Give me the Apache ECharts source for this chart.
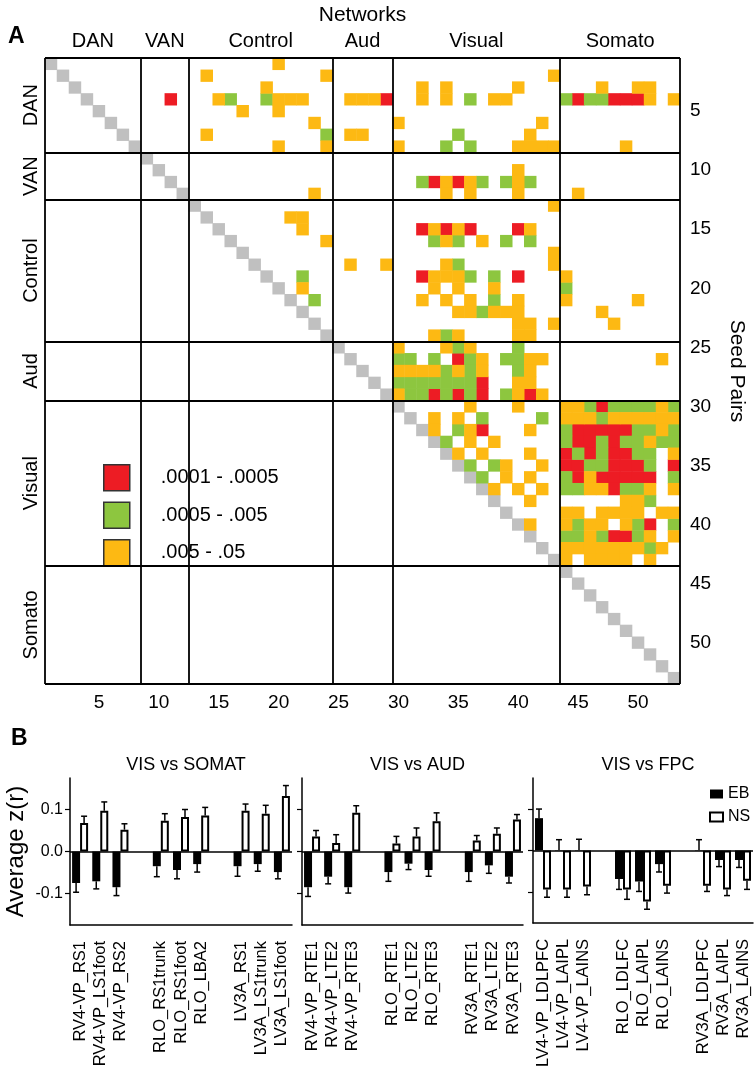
<!DOCTYPE html>
<html>
<head>
<meta charset="utf-8">
<script src="https://cdn.jsdelivr.net/npm/echarts@6/dist/echarts.min.js"></script>
<style>
html,body{margin:0;padding:0;background:#fff;}
#chart{width:756px;height:1070px;}
</style>
</head>
<body>
<div id="chart"></div>
<script>
// ---------------- Panel A data ----------------
const seedTicks = Array.from({length: 53}, (_, i) => String(i + 1));
const networkNames = ['DAN', 'VAN', 'Control', 'Aud', 'Visual', 'Somato'];
const networkBounds = [0, 8, 12, 24, 29, 43, 53];
const legendNames = ['.0001 - .0005', '.0005 - .005', '.005 - .05'];
// per seed row: significant columns (R = .0001-.0005, G = .0005-.005, O = .005-.05)
const rowCells = [
  '20O',
  '14O 24O 43O',
  '19O 32O 34O 40O 47O 50-51O',
  '11R 15O 16G 19G 20-22O 26-28O 29R 32O 34O 36G 38-39O 44G 45R 46-47G 48-50R 51O 53O',
  '17O 20O',
  '23O 30O 42O',
  '14O 24G 26-27O 35G 41O',
  '20O 24O 30O 34G 36G 40-43O 49O',
  '',
  '40O',
  '32G 33R 34O 35R 36O 37G 39G 40O 41G',
  '23O 34O 36O 40O 45O',
  '43O',
  '21-22O',
  '22O 32R 33O 34R 35O 36R 40R 41O',
  '24O 33G 34O 35G 37O 39G 41G',
  '43O',
  '26O 29O 34O 35G 43O',
  '22G 32R 33-35O 36G 38G 40R 44O',
  '22O 33O 35O 38O 44G',
  '23G 32O 34O 36O 38G 40O 44O 50O',
  '35-36O 37G 38-40O 47O',
  '40-41O 43O 48O',
  '33O 34G 35O 40-41O',
  '30O 34O 35G 36O 40G',
  '30-31G 33G 35R 36G 37O 39-40G 41-42O 52O',
  '30-33O 34G 35O 36G 37O 40G 41O',
  '30-36G 37R 40-41O',
  '30O 31-32G 33R 34G 35R 36G 37R 39G 40O 41R 42O',
  '36O 40O 44-45O 46G 47R 48-51G 52O 53G',
  '33O 35O 37G 42G 44-46O 47G 48-53O',
  '33O 35G 36O 37R 41O 44G 45-49R 50-51G 52O 53G',
  '34G 36O 38O 44G 45-46R 47G 48R 49-50G 51O 52-53G',
  '35O 37O 41O 44R 45G 46R 47G 48-49R 50-51G 53O',
  '36G 38G 39O 42O 44-45R 46-47G 48-50R 51G 53R',
  '37G 39O 41O 44G 45R 46O 47-51R 53G',
  '38O 40O 42O 44-45G 46-47O 48R 49-50G 51O 53O',
  '41O 49-50O 51G',
  '44-45O 47-50O 52-53O',
  '41O 44O 45G 46-47O 49O 50G 51R 53G',
  '44-45G 46O 47G 48-49R 50G 51O 53O',
  '44-50O 51G 52O',
  '44O 46-49O 51O',
  '', '', '', '', '', '', '', '', '', ''
];

// ---------------- Panel B data ----------------
const somatLabels = ['RV4-VP_RS1','RV4-VP_LS1foot','RV4-VP_RS2','','RLO_RS1trunk','RLO_RS1foot','RLO_LBA2','','LV3A_RS1','LV3A_LS1trunk','LV3A_LS1foot'];
const somatEB     = [-0.075,-0.071,-0.085,null,-0.035,-0.044,-0.030,null,-0.035,-0.030,-0.049];
const somatEBerr  = [0.022,0.018,0.020,null,0.025,0.021,0.019,null,0.024,0.017,0.016];
const somatNS     = [0.068,0.097,0.052,null,0.073,0.082,0.086,null,0.097,0.090,0.132];
const somatNSerr  = [0.016,0.021,0.014,null,0.017,0.018,0.019,null,0.016,0.020,0.025];

const audLabels = ['RV4-VP_RTE1','RV4-VP_LTE2','RV4-VP_RTE3','','RLO_RTE1','RLO_LTE2','RLO_RTE3','','RV3A_RTE1','RV3A_LTE2','RV3A_RTE3'];
const audEB     = [-0.085,-0.060,-0.085,null,-0.049,-0.029,-0.044,null,-0.049,-0.033,-0.060];
const audEBerr  = [0.022,0.017,0.014,null,0.022,0.014,0.015,null,0.022,0.019,0.015];
const audNS     = [0.036,0.020,0.092,null,0.019,0.036,0.072,null,0.026,0.042,0.076];
const audNSerr  = [0.014,0.020,0.017,null,0.017,0.020,0.020,null,0.012,0.014,0.012];

const fpcLabels = ['LV4-VP_LDLPFC','LV4-VP_LAIPL','LV4-VP_LAINS','','RLO_LDLFC','RLO_LAIPL','RLO_LAINS','','RV3A_LDLPFC','RV3A_LAIPL','RV3A_LAINS'];
const fpcEB     = [0.078,0.001,0.001,null,-0.069,-0.075,-0.033,null,0.001,-0.023,-0.023];
const fpcEBerr  = [0.022,0.025,0.026,null,0.025,0.024,0.019,null,0.025,0.016,0.018];
const fpcNS     = [-0.094,-0.094,-0.087,null,-0.094,-0.123,-0.085,null,-0.085,-0.094,-0.073];
const fpcNSerr  = [0.019,0.019,0.020,null,0.024,0.019,0.018,null,0.014,0.015,0.021];

const panelTitles = ['VIS vs SOMAT', 'VIS vs AUD', 'VIS vs FPC'];
const yTickValues = [-0.1, 0, 0.1];

// ---------------- build ----------------
const RED = '#ed1c24', GREEN = '#8dc63f', ORANGE = '#fdb913', GRAY = '#c0c0c0';
const FONT = 'Liberation Sans, Arial, Helvetica, sans-serif';

const cells = {R: [], G: [], O: []};
rowCells.forEach((s, r) => {
  s.split(' ').filter(Boolean).forEach(tok => {
    const m = tok.match(/^(\d+)(?:-(\d+))?([RGO])$/);
    const a = +m[1], b = m[2] ? +m[2] : a;
    for (let c = a; c <= b; c++) cells[m[3]].push([c - 1, r, 1]);
  });
});
const diag = seedTicks.map((_, i) => [i, i, 1]);

const mids = {};
for (let i = 0; i < networkNames.length; i++) {
  mids[((networkBounds[i] + networkBounds[i + 1]) / 2).toFixed(1)] = networkNames[i];
}
const netLabel = v => mids[Number(v).toFixed(1)] || '';

const boundLines = [];
networkBounds.forEach(b => { boundLines.push({xAxis: b}); boundLines.push({yAxis: b}); });

const panels = [
  {labels: somatLabels, eb: somatEB, ebErr: somatEBerr, ns: somatNS, nsErr: somatNSerr},
  {labels: audLabels, eb: audEB, ebErr: audEBerr, ns: audNS, nsErr: audNSerr},
  {labels: fpcLabels, eb: fpcEB, ebErr: fpcEBerr, ns: fpcNS, nsErr: fpcNSerr}
];
const panelGrids = [
  {left: 70, top: 778, width: 222, height: 147},
  {left: 302, top: 778, width: 221, height: 147},
  {left: 533, top: 778, width: 220, height: 147}
];
const BAR_W = 8;

const grids = [{left: 45, top: 50, width: 635, height: 634}].concat(panelGrids);

const xAxes = [
  {type: 'category', gridIndex: 0, data: seedTicks, position: 'bottom',
   axisLine: {show: false}, axisTick: {show: false}, splitLine: {show: false},
   axisLabel: {interval: i => (i + 1) % 5 === 0, fontSize: 19, color: '#000', fontFamily: FONT, margin: 9}},
  {type: 'value', gridIndex: 0, min: 0, max: 53, interval: 0.5, position: 'top',
   axisLine: {show: false}, axisTick: {show: false}, splitLine: {show: false},
   axisLabel: {formatter: netLabel, fontSize: 20, color: '#000', fontFamily: FONT, margin: 7, showMinLabel: true, showMaxLabel: true},
   name: 'Networks', nameLocation: 'middle', nameGap: 32,
   nameTextStyle: {fontSize: 21, color: '#000', fontFamily: FONT}}
];
const yAxes = [
  {type: 'category', gridIndex: 0, data: seedTicks, inverse: true, position: 'right',
   axisLine: {show: false}, axisTick: {show: false}, splitLine: {show: false},
   axisLabel: {interval: i => (i + 1) % 5 === 0, fontSize: 19, color: '#000', fontFamily: FONT, margin: 10},
   name: 'Seed Pairs', nameLocation: 'middle', nameRotate: -90, nameGap: 46,
   nameTextStyle: {fontSize: 21, color: '#000', fontFamily: FONT}},
  {type: 'value', gridIndex: 0, min: 0, max: 53, interval: 0.5, inverse: true, position: 'left',
   axisLine: {show: false}, axisTick: {show: false}, splitLine: {show: false},
   axisLabel: {formatter: netLabel, rotate: 90, fontSize: 20, color: '#000', fontFamily: FONT, margin: 4}}
];

const series = [
  {type: 'heatmap', name: 'diag', xAxisIndex: 0, yAxisIndex: 0, data: diag,
   itemStyle: {color: GRAY}, emphasis: {disabled: true}, silent: true},
  {type: 'heatmap', name: legendNames[0], xAxisIndex: 0, yAxisIndex: 0, data: cells.R,
   itemStyle: {color: RED}, emphasis: {disabled: true}, silent: true},
  {type: 'heatmap', name: legendNames[1], xAxisIndex: 0, yAxisIndex: 0, data: cells.G,
   itemStyle: {color: GREEN}, emphasis: {disabled: true}, silent: true},
  {type: 'heatmap', name: legendNames[2], xAxisIndex: 0, yAxisIndex: 0, data: cells.O,
   itemStyle: {color: ORANGE}, emphasis: {disabled: true}, silent: true},
  {type: 'scatter', xAxisIndex: 1, yAxisIndex: 1, data: [[0, 0]], symbolSize: 0, silent: true, z: 5,
   markLine: {silent: true, symbol: 'none', animation: false, label: {show: false},
     lineStyle: {color: '#000', width: 1.8, type: 'solid'}, data: boundLines}}
];

panels.forEach((p, k) => {
  const gi = k + 1;
  xAxes.push({type: 'category', gridIndex: gi, data: p.labels, position: 'bottom',
    axisLine: {onZero: false, lineStyle: {color: '#000', width: 1.5}},
    axisTick: {alignWithLabel: true, length: 5, lineStyle: {color: '#000', width: 1.2}},
    axisLabel: {interval: 0, rotate: 90, fontSize: 16.5, color: '#000', fontFamily: FONT, margin: 16}});
  yAxes.push({type: 'value', gridIndex: gi, min: -0.175, max: 0.175,
    axisLine: {show: true, lineStyle: {color: '#000', width: 1.5}},
    axisTick: {show: true, length: 5, customValues: yTickValues, lineStyle: {color: '#000', width: 1.2}},
    splitLine: {show: false},
    axisLabel: {show: k === 0, customValues: yTickValues, formatter: v => v.toFixed(1),
      fontSize: 16, color: '#000', fontFamily: FONT, margin: 7},
    name: k === 0 ? 'Average z(r)' : '', nameLocation: 'middle', nameGap: 42,
    nameTextStyle: {fontSize: 24, color: '#000', fontFamily: FONT}});
  const xi = gi + 1, yi = gi + 1;
  series.push({type: 'bar', name: 'EB', xAxisIndex: xi, yAxisIndex: yi, data: p.eb,
    barWidth: BAR_W, barGap: '0%', itemStyle: {color: '#000'}, silent: true,
    markLine: {silent: true, symbol: 'none', animation: false, label: {show: false},
      lineStyle: {color: '#000', width: 1.5, type: 'solid'}, data: [{yAxis: 0}]}});
  series.push({type: 'bar', name: 'NS', xAxisIndex: xi, yAxisIndex: yi, data: p.ns,
    barWidth: BAR_W, barGap: '0%', silent: true,
    itemStyle: {color: '#fff', borderColor: '#000', borderWidth: 2}});
  [[p.eb, p.ebErr, -1], [p.ns, p.nsErr, 1]].forEach(([vals, errs, side]) => {
    const d = [];
    vals.forEach((v, i) => { if (v !== null) d.push([i, v, errs[i]]); });
    series.push({type: 'custom', xAxisIndex: xi, yAxisIndex: yi, data: d, silent: true, z: 4,
      renderItem: (params, api) => {
        const v = api.value(1), e = api.value(2);
        const end = v + (v >= 0 ? e : -e);
        const p0 = api.coord([api.value(0), v]);
        const p1 = api.coord([api.value(0), end]);
        const x = p0[0] + side * BAR_W / 2;
        const st = {stroke: '#000', lineWidth: 1.5};
        return {type: 'group', children: [
          {type: 'line', shape: {x1: x, y1: p0[1], x2: x, y2: p1[1]}, style: st},
          {type: 'line', shape: {x1: x - 3, y1: p1[1], x2: x + 3, y2: p1[1]}, style: st}
        ]};
      }});
  });
});

const titles = [
  {text: 'A', left: 3, top: 20, textStyle: {fontSize: 23, fontWeight: 'bold', color: '#000', fontFamily: FONT}},
  {text: 'B', left: 6, top: 722, textStyle: {fontSize: 23, fontWeight: 'bold', color: '#000', fontFamily: FONT}}
];
panelGrids.forEach((g, k) => {
  titles.push({text: panelTitles[k], left: g.left + g.width / 2, top: 751, textAlign: 'center',
    textStyle: {fontSize: 18, fontWeight: 'normal', color: '#000', fontFamily: FONT}});
});

const option = {
  animation: false,
  backgroundColor: '#fff',
  title: titles,
  grid: grids,
  xAxis: xAxes,
  yAxis: yAxes,
  legend: [
    {data: legendNames, orient: 'vertical', left: 98, top: 459, itemWidth: 26, itemHeight: 26, itemGap: 10,
     icon: 'rect', selectedMode: false,
     itemStyle: {borderColor: '#333', borderWidth: 1.5},
     textStyle: {fontSize: 20, color: '#000', fontFamily: FONT, padding: [0, 0, 0, 26]}},
    {data: ['EB', 'NS'], orient: 'vertical', left: 704, top: 781, itemWidth: 13, itemHeight: 9, itemGap: 7,
     icon: 'rect', selectedMode: false,
     textStyle: {fontSize: 16, color: '#000', fontFamily: FONT}}
  ],
  series: series
};

const chart = echarts.init(document.getElementById('chart'), null, {renderer: 'canvas'});
chart.setOption(option);
</script>
</body>
</html>
